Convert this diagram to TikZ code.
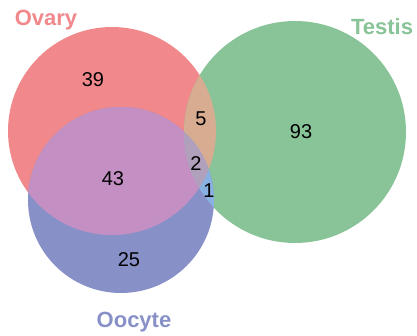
\documentclass[tikz,border=0pt]{standalone}
\usepackage{fontspec}
\setmainfont{Liberation Sans}
\definecolor{ovaryc}{HTML}{F0888C}
\definecolor{testisc}{HTML}{88C498}
\definecolor{oocytec}{HTML}{8890C8}
\definecolor{ovoo}{HTML}{C490C4}
\definecolor{ovte}{HTML}{D8AC90}
\definecolor{oote}{HTML}{88B0E0}
\definecolor{allc}{HTML}{B0A0BC}
\tikzset{
  count/.style={font=\fontsize{20}{22}\selectfont, text=black},
  setlabel/.style={font=\fontsize{22}{24}\selectfont\bfseries}
}
\begin{document}
\begin{tikzpicture}[x=1pt, y=-1pt]
  \useasboundingbox (0,0) rectangle (417,336);

  % Sets
  \coordinate (ovary) at (112,131);
  \coordinate (testis) at (295,132);
  \coordinate (oocyte) at (121,200);
  \fill[ovaryc] (ovary) circle (104);
  \fill[testisc] (testis) circle (111);
  \fill[oocytec] (oocyte) circle (93);

  % Overlaps
  \begin{scope}
    \clip (ovary) circle (104);
    \fill[ovoo] (oocyte) circle (93);
    \fill[ovte] (testis) circle (111);
  \end{scope}
  \begin{scope}
    \clip (oocyte) circle (93);
    \fill[oote] (testis) circle (111);
  \end{scope}
  \begin{scope}
    \clip (ovary) circle (104);
    \clip (oocyte) circle (93);
    \fill[allc] (testis) circle (111);
  \end{scope}

  % Counts
  \foreach \n/\x/\y in {39/93/80, 5/201/119, 93/301/132, 2/196/164, 43/113/179, 1/209/191, 25/129/260}
    \node[count] (n\n) at (\x,\y) {\n};

  % Labels
  \node[setlabel, text=ovaryc] (lovary) at (46,20) {Ovary};
  \node[setlabel, text=testisc] (ltestis) at (382,27) {Testis};
  \node[setlabel, text=oocytec] (loocyte) at (134,322) {Oocyte};
\end{tikzpicture}
\end{document}
